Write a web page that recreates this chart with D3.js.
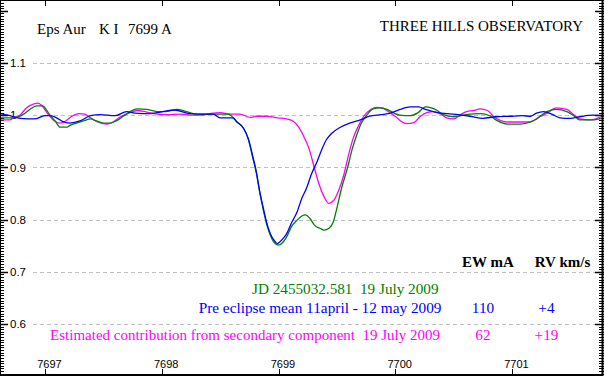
<!DOCTYPE html>
<html>
<head>
<meta charset="utf-8">
<script src="https://cdn.jsdelivr.net/npm/d3@7"></script>
<style>
  body { margin: 0; background: #fff; }
  svg { display: block; }
</style>
</head>
<body>
<script>
const width = 604
const height = 376

// Wavelength (A) and relative flux for each spectrum
const greenWl = [7696.62, 7696.70, 7696.76, 7696.81, 7696.87, 7696.93, 7696.98, 7697.00, 7697.04, 7697.09, 7697.13, 7697.19, 7697.21, 7697.27, 7697.33, 7697.39, 7697.44, 7697.50, 7697.56, 7697.61, 7697.67, 7697.73, 7697.79, 7697.87, 7697.96, 7698.04, 7698.13, 7698.21, 7698.27, 7698.33, 7698.56, 7698.59, 7698.64, 7698.70, 7698.74, 7698.78, 7698.81, 7698.84, 7698.87, 7698.90, 7698.93, 7698.96, 7699.00, 7699.04, 7699.07, 7699.11, 7699.16, 7699.20, 7699.23, 7699.27, 7699.31, 7699.36, 7699.39, 7699.43, 7699.47, 7699.50, 7699.54, 7699.59, 7699.63, 7699.67, 7699.71, 7699.76, 7699.81, 7699.87, 7699.93, 7699.99, 7700.04, 7700.13, 7700.19, 7700.26, 7700.36, 7700.41, 7700.50, 7700.61, 7700.73, 7700.81, 7700.87, 7700.96, 7701.07, 7701.16, 7701.21, 7701.30, 7701.38, 7701.47, 7701.53, 7701.58, 7701.69, 7701.78]
const greenFlux = [0.995, 0.995, 0.996, 1.001, 1.011, 1.018, 1.018, 1.014, 1.001, 0.988, 0.977, 0.977, 0.980, 0.985, 0.989, 0.993, 0.989, 0.985, 0.985, 0.989, 0.998, 1.007, 1.012, 1.011, 1.007, 1.007, 1.011, 1.007, 1.003, 1.002, 1.002, 1.000, 0.988, 0.975, 0.955, 0.918, 0.889, 0.851, 0.818, 0.790, 0.770, 0.757, 0.751, 0.757, 0.767, 0.786, 0.799, 0.807, 0.809, 0.802, 0.789, 0.783, 0.780, 0.783, 0.796, 0.822, 0.860, 0.898, 0.934, 0.962, 0.985, 1.001, 1.012, 1.014, 1.011, 1.004, 1.000, 0.999, 1.004, 1.016, 1.009, 1.001, 0.997, 1.001, 1.003, 0.999, 0.990, 0.983, 0.983, 0.987, 0.993, 1.007, 1.011, 1.007, 0.999, 0.991, 0.991, 0.995]

const blueWl = [7696.62, 7696.70, 7696.79, 7696.91, 7697.00, 7697.04, 7697.10, 7697.15, 7697.21, 7697.30, 7697.39, 7697.47, 7697.60, 7697.70, 7697.77, 7697.90, 7697.99, 7698.11, 7698.24, 7698.37, 7698.44, 7698.50, 7698.61, 7698.64, 7698.70, 7698.74, 7698.78, 7698.81, 7698.84, 7698.87, 7698.90, 7698.93, 7698.96, 7698.99, 7699.01, 7699.04, 7699.07, 7699.11, 7699.16, 7699.20, 7699.24, 7699.28, 7699.33, 7699.37, 7699.41, 7699.46, 7699.53, 7699.61, 7699.70, 7699.78, 7699.88, 7699.96, 7700.04, 7700.13, 7700.20, 7700.26, 7700.34, 7700.45, 7700.54, 7700.64, 7700.75, 7700.86, 7700.98, 7701.09, 7701.16, 7701.21, 7701.27, 7701.35, 7701.41, 7701.50, 7701.58, 7701.69, 7701.78]
const blueFlux = [1.003, 0.999, 0.994, 0.993, 0.999, 0.999, 0.995, 0.988, 0.985, 0.989, 0.999, 1.001, 0.999, 1.007, 1.004, 1.003, 1.006, 1.010, 1.003, 1.002, 1.002, 0.995, 0.995, 0.988, 0.975, 0.956, 0.921, 0.892, 0.853, 0.822, 0.793, 0.773, 0.761, 0.754, 0.757, 0.764, 0.773, 0.793, 0.815, 0.841, 0.860, 0.886, 0.911, 0.934, 0.953, 0.966, 0.977, 0.985, 0.991, 0.998, 1.001, 1.004, 1.011, 1.016, 1.016, 1.011, 1.006, 1.003, 1.001, 0.998, 0.994, 0.997, 0.998, 0.999, 0.998, 1.004, 1.007, 1.001, 0.995, 0.994, 0.997, 1.000, 0.999]

const magentaWl = [7696.62, 7696.70, 7696.73, 7696.79, 7696.84, 7696.90, 7696.94, 7696.97, 7697.02, 7697.07, 7697.13, 7697.17, 7697.23, 7697.29, 7697.34, 7697.39, 7697.44, 7697.53, 7697.59, 7697.64, 7697.72, 7697.79, 7697.87, 7697.96, 7698.04, 7698.16, 7698.27, 7698.33, 7698.41, 7698.50, 7698.59, 7698.67, 7698.76, 7698.81, 7698.90, 7698.99, 7699.07, 7699.13, 7699.17, 7699.21, 7699.26, 7699.30, 7699.34, 7699.39, 7699.43, 7699.47, 7699.51, 7699.56, 7699.60, 7699.64, 7699.69, 7699.73, 7699.79, 7699.84, 7699.89, 7699.94, 7700.00, 7700.04, 7700.10, 7700.16, 7700.21, 7700.27, 7700.33, 7700.39, 7700.44, 7700.50, 7700.56, 7700.61, 7700.67, 7700.73, 7700.79, 7700.84, 7700.90, 7700.96, 7701.13, 7701.19, 7701.24, 7701.30, 7701.38, 7701.47, 7701.53, 7701.58, 7701.67, 7701.78]
const magentaFlux = [0.991, 0.991, 0.995, 1.001, 1.014, 1.021, 1.023, 1.019, 1.004, 0.991, 0.985, 0.988, 0.998, 1.003, 1.002, 0.995, 0.988, 0.983, 0.988, 0.996, 1.004, 1.009, 1.006, 1.002, 1.001, 1.002, 1.000, 1.000, 1.003, 1.005, 1.002, 1.002, 0.996, 0.998, 0.998, 0.995, 0.993, 0.988, 0.978, 0.962, 0.937, 0.905, 0.873, 0.844, 0.831, 0.836, 0.853, 0.886, 0.924, 0.956, 0.982, 0.998, 1.011, 1.015, 1.014, 1.007, 0.998, 0.990, 0.984, 0.986, 0.997, 1.005, 1.007, 1.002, 0.995, 0.993, 1.001, 1.007, 1.009, 1.012, 1.009, 0.998, 0.990, 0.987, 0.987, 0.990, 0.997, 1.004, 1.014, 1.011, 1.001, 0.993, 0.991, 0.999]

const xTicks = [7697, 7698, 7699, 7700, 7701]
const yTicks = [0.6, 0.7, 0.8, 0.9, 1.0, 1.1, 1.2]
const yLabels = ['0.6', '0.7', '0.8', '0.9', '1', '1.1']

const legend = [
  {text: 'JD 2455032.581  19 July 2009', color: '#008000', ew: '', rv: ''},
  {text: 'Pre eclipse mean 11april - 12 may 2009', color: '#0000ff', ew: '110', rv: '+4'},
  {text: 'Estimated contribution from secondary component  19 July 2009', color: '#ff00ff', ew: '62', rv: '+19'}
]

const svg = d3.select('body')
  .append('svg')
  .attr('width', width)
  .attr('height', height)

svg.append('rect')
  .attr('width', width)
  .attr('height', height)
  .attr('fill', '#fff')

const x = d3.scaleLinear().domain([7697, 7701]).range([45, 512])
const y = d3.scaleLinear().domain([1.1, 0.6]).range([63, 324])

// grid
svg.append('g')
  .selectAll('line')
  .data(yTicks.filter((d) => d < 1.15))
  .enter()
  .append('line')
  .attr('x1', 33)
  .attr('x2', 596)
  .attr('y1', (d) => Math.round(y(d)) + 0.5)
  .attr('y2', (d) => Math.round(y(d)) + 0.5)
  .attr('stroke', '#c0c0c0')
  .attr('stroke-dasharray', '4,3')

// minor y ticks on both sides
const minor = d3.range(0.5, 1.2251, 0.005)
svg.append('g')
  .selectAll('line')
  .data(minor)
  .enter()
  .append('line')
  .attr('x1', 0)
  .attr('x2', 4)
  .attr('y1', (d) => Math.round(y(d)) + 0.5)
  .attr('y2', (d) => Math.round(y(d)) + 0.5)
  .attr('stroke', '#000')
svg.append('g')
  .selectAll('line')
  .data(minor)
  .enter()
  .append('line')
  .attr('x1', 599)
  .attr('x2', 604)
  .attr('y1', (d) => Math.round(y(d)) + 0.5)
  .attr('y2', (d) => Math.round(y(d)) + 0.5)
  .attr('stroke', '#000')

// major y ticks
svg.append('g')
  .selectAll('line')
  .data(yTicks)
  .enter()
  .append('line')
  .attr('x1', 0)
  .attr('x2', 8)
  .attr('y1', (d) => Math.round(y(d)) + 0.5)
  .attr('y2', (d) => Math.round(y(d)) + 0.5)
  .attr('stroke', '#000')
  .attr('stroke-width', 1.5)
svg.append('g')
  .selectAll('line')
  .data(yTicks)
  .enter()
  .append('line')
  .attr('x1', 595)
  .attr('x2', 604)
  .attr('y1', (d) => Math.round(y(d)) + 0.5)
  .attr('y2', (d) => Math.round(y(d)) + 0.5)
  .attr('stroke', '#000')
  .attr('stroke-width', 1.5)

svg.append('g')
  .selectAll('text')
  .data(yLabels)
  .enter()
  .append('text')
  .attr('x', 10)
  .attr('y', (d) => y(+d))
  .attr('dy', '0.37em')
  .style('font', '11.5px "Liberation Sans", Arial, sans-serif')
  .text((d) => d)

// x ticks top and bottom
svg.append('g')
  .selectAll('line')
  .data(xTicks)
  .enter()
  .append('line')
  .attr('x1', (d) => Math.round(x(d)) + 0.5)
  .attr('x2', (d) => Math.round(x(d)) + 0.5)
  .attr('y1', 0)
  .attr('y2', 6)
  .attr('stroke', '#000')
svg.append('g')
  .selectAll('line')
  .data(xTicks)
  .enter()
  .append('line')
  .attr('x1', (d) => Math.round(x(d)) + 0.5)
  .attr('x2', (d) => Math.round(x(d)) + 0.5)
  .attr('y1', 369)
  .attr('y2', 376)
  .attr('stroke', '#000')

svg.append('g')
  .selectAll('text')
  .data(xTicks)
  .enter()
  .append('text')
  .attr('x', (d) => x(d) + 4.5)
  .attr('y', 367.5)
  .attr('text-anchor', 'middle')
  .style('font', '11px "Liberation Sans", Arial, sans-serif')
  .text((d) => d)

// spectra
const line = d3.line()
  .x((d) => x(d[0]))
  .y((d) => y(d[1]))
  .curve(d3.curveMonotoneX)

const series = [
  {wl: magentaWl, flux: magentaFlux, color: '#ff00ff'},
  {wl: greenWl, flux: greenFlux, color: '#008000'},
  {wl: blueWl, flux: blueFlux, color: '#0000ff'}
]

series.forEach((s) => {
  svg.append('path')
    .datum(d3.zip(s.wl, s.flux))
    .attr('fill', 'none')
    .attr('stroke', s.color)
    .attr('stroke-width', 1.3)
    .attr('d', line)
})

// frame
svg.append('rect')
  .attr('x', 0.5)
  .attr('y', 0.5)
  .attr('width', 602)
  .attr('height', 374)
  .attr('fill', 'none')
  .attr('stroke', '#000')
svg.append('path')
  .attr('d', 'M602.5,0V375.5H0')
  .attr('fill', 'none')
  .attr('stroke', '#000')
  .attr('stroke-width', 2)

// titles
const serif = '"Liberation Serif", "Times New Roman", serif'
svg.append('text').attr('x', 37).attr('y', 33.5)
  .style('font', `15px ${serif}`).text('Eps Aur')
svg.append('text').attr('x', 99).attr('y', 33.5)
  .style('font', `15px ${serif}`).text('K I')
svg.append('text').attr('x', 128).attr('y', 33.5)
  .style('font', `15px ${serif}`).text('7699 A')
svg.append('text').attr('x', 583).attr('y', 31).attr('text-anchor', 'end')
  .style('font', `15px ${serif}`).text('THREE HILLS OBSERVATORY')

// legend table
svg.append('text').attr('x', 488).attr('y', 267).attr('text-anchor', 'middle')
  .style('font', `bold 15px ${serif}`).text('EW mA')
svg.append('text').attr('x', 562.5).attr('y', 267).attr('text-anchor', 'middle')
  .style('font', `bold 15px ${serif}`).text('RV km/s')

const rowY = [293.5, 313, 339.5]
const rowEnd = [438.5, 441.5, 440]
const rowSize = [15.2, 15.3, 15]
legend.forEach((d, i) => {
  svg.append('text')
    .attr('x', rowEnd[i])
    .attr('y', rowY[i])
    .attr('text-anchor', 'end')
    .attr('fill', d.color)
    .style('font', `${rowSize[i]}px ${serif}`)
    .style('white-space', 'pre')
    .text(d.text)
  svg.append('text')
    .attr('x', 483)
    .attr('y', rowY[i])
    .attr('text-anchor', 'middle')
    .attr('fill', d.color)
    .style('font', `15.3px ${serif}`)
    .text(d.ew)
  svg.append('text')
    .attr('x', 546.5)
    .attr('y', rowY[i])
    .attr('text-anchor', 'middle')
    .attr('fill', d.color)
    .style('font', `15.3px ${serif}`)
    .text(d.rv)
})
</script>
</body>
</html>
